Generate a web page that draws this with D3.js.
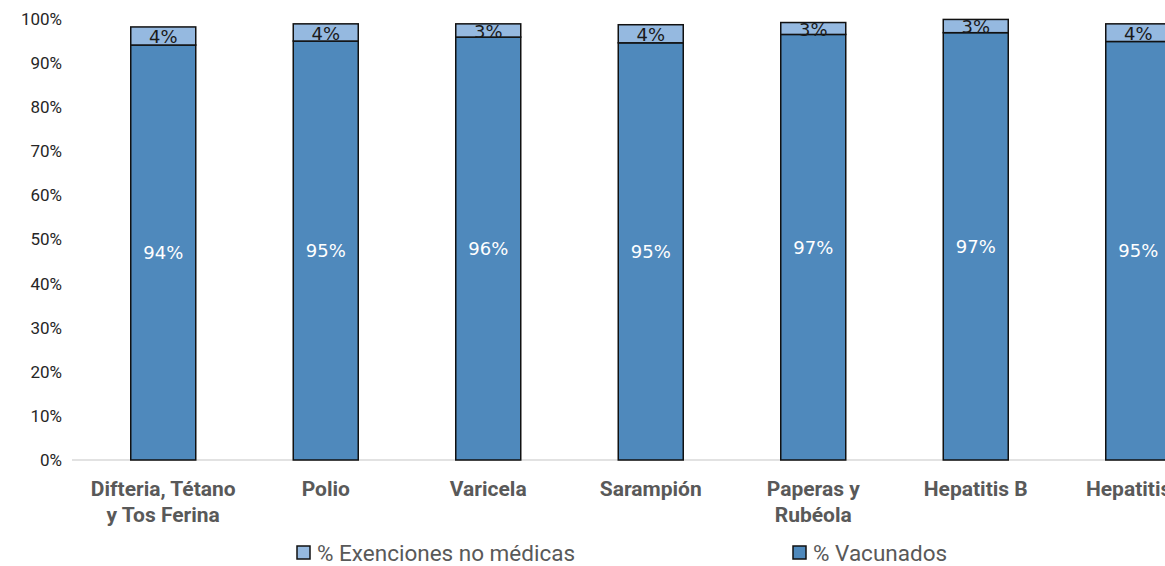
<!DOCTYPE html>
<html lang="es">
<head>
<meta charset="UTF-8">
<title>Vacunación</title>
<script src="https://d3js.org/d3.v7.min.js"></script>
<style>
  body { margin: 0; background: #fff; overflow: hidden; }
  svg { display: block; }
  .tick-label { font-family: Roboto, sans-serif; font-size: 17px; fill: #262626; }
  .cat-label { font-family: Roboto, sans-serif; font-weight: bold; font-size: 21px; fill: #595959; }
  .legend-label { font-family: Roboto, sans-serif; font-size: 22.5px; fill: #595959; }
  .val-label { font-family: "DejaVu Sans", sans-serif; font-size: 18px; }
</style>
</head>
<body>
<div id="chart"></div>
<script>
// data (percent)
const categories = ["Difteria, Tétano|y Tos Ferina", "Polio", "Varicela", "Sarampión", "Paperas y|Rubéola", "Hepatitis B", "Hepatitis A"];
const vacunados  = [94.1, 95.0, 95.9, 94.6, 96.5, 96.9, 94.9];
const exenciones = [4.1, 3.9, 3.0, 4.1, 2.7, 3.0, 4.0];
const yTicks = [0, 10, 20, 30, 40, 50, 60, 70, 80, 90, 100];

const width = 1165, height = 566;
const x0 = 82, plotTop = 19, plotBottom = 460;

const svg = d3.select("#chart").append("svg")
    .attr("width", width)
    .attr("height", height);

const x = d3.scaleBand()
    .domain(categories)
    .range([x0, x0 + categories.length * 162.5])
    .paddingInner(0.6)
    .paddingOuter(0.3);

const y = d3.scaleLinear()
    .domain([0, 100])
    .range([plotBottom, plotTop]);

// y tick labels
svg.append("g").selectAll("text")
    .data(yTicks)
    .enter().append("text")
    .attr("class", "tick-label")
    .attr("x", 62)
    .attr("y", d => y(d))
    .attr("dy", "0.35em")
    .attr("text-anchor", "end")
    .text(d => d + "%");

// baseline
svg.append("line")
    .attr("x1", 72).attr("x2", width)
    .attr("y1", plotBottom).attr("y2", plotBottom)
    .attr("stroke", "#d9d9d9")
    .attr("stroke-width", 1.5);

const rows = categories.map((c, i) => ({ cat: c, vac: vacunados[i], ex: exenciones[i], i: i }));

const colorVac = "#4f89bc", colorEx = "#95b9e0";

const bars = svg.append("g").selectAll("g")
    .data(rows)
    .enter().append("g");

// vacunados segment
bars.append("rect")
    .attr("x", d => x(d.cat))
    .attr("width", x.bandwidth())
    .attr("y", d => y(d.vac))
    .attr("height", d => y(0) - y(d.vac))
    .attr("fill", colorVac)
    .attr("stroke", "#111")
    .attr("stroke-width", 1.5);

// exenciones segment
bars.append("rect")
    .attr("x", d => x(d.cat))
    .attr("width", x.bandwidth())
    .attr("y", d => y(d.vac + d.ex))
    .attr("height", d => y(d.vac) - y(d.vac + d.ex))
    .attr("fill", colorEx)
    .attr("stroke", "#111")
    .attr("stroke-width", 1.5);

// clip paths so the small labels stay inside their segment
const defs = svg.append("defs");
rows.forEach(d => {
    defs.append("clipPath").attr("id", "clip" + d.i)
      .append("rect")
      .attr("x", x(d.cat))
      .attr("width", x.bandwidth())
      .attr("y", y(d.vac + d.ex) - 1)
      .attr("height", y(d.vac) - y(d.vac + d.ex) + 3);
});

bars.append("text")
    .attr("class", "val-label")
    .attr("x", d => x(d.cat) + x.bandwidth() / 2)
    .attr("y", d => y(d.vac / 2))
    .attr("dy", "0.35em")
    .attr("text-anchor", "middle")
    .attr("fill", "#fff")
    .text(d => Math.round(d.vac) + "%");

bars.append("text")
    .attr("class", "val-label")
    .attr("clip-path", d => "url(#clip" + d.i + ")")
    .attr("x", d => x(d.cat) + x.bandwidth() / 2)
    .attr("y", d => y(d.vac + d.ex / 2))
    .attr("dy", "0.4em")
    .attr("text-anchor", "middle")
    .attr("fill", "#1a1a1a")
    .text(d => Math.round(d.ex) + "%");

// category labels
const cat = svg.append("g").selectAll("text")
    .data(categories)
    .enter().append("text")
    .attr("class", "cat-label")
    .attr("text-anchor", "middle")
    .attr("x", d => x(d) + x.bandwidth() / 2)
    .attr("y", 496);
cat.selectAll("tspan")
    .data(d => d.split("|").map((t, k) => ({ t: t, k: k, c: d })))
    .enter().append("tspan")
    .attr("x", d => x(d.c) + x.bandwidth() / 2)
    .attr("dy", d => d.k === 0 ? 0 : 26)
    .text(d => d.t);

// legend
const legendItems = [
    { name: "% Exenciones no médicas", color: colorEx, x: 297 },
    { name: "% Vacunados", color: colorVac, x: 793 }
];
const lg = svg.append("g").selectAll("g")
    .data(legendItems)
    .enter().append("g")
    .attr("transform", d => `translate(${d.x},546)`);
lg.append("rect")
    .attr("width", 13).attr("height", 13)
    .attr("fill", d => d.color)
    .attr("stroke", "#111")
    .attr("stroke-width", 1.5);
lg.append("text")
    .attr("class", "legend-label")
    .attr("x", 20)
    .attr("y", 7)
    .attr("dy", "0.35em")
    .text(d => d.name);
</script>
</body>
</html>
